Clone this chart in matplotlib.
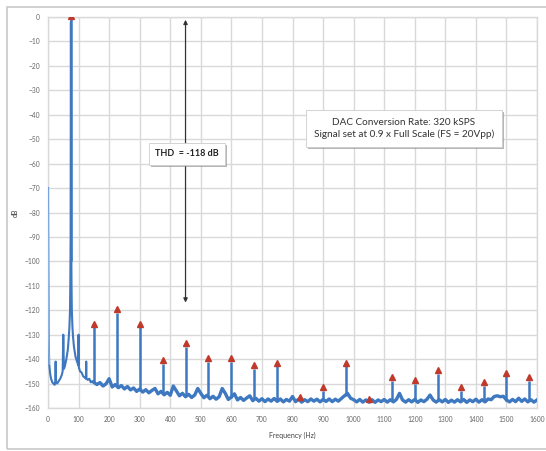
import matplotlib
matplotlib.use("Agg")
import matplotlib.pyplot as plt
import matplotlib.patheffects as pe
from matplotlib.patches import Rectangle

plt.rcParams['font.family'] = ['Lato', 'DejaVu Sans']

# ---- data ----
# low-frequency part of trace (Hz, dB) incl. fundamental skirt and spurs
low_freq = [0, 2, 4, 7, 10, 14, 18, 22, 24, 25, 26, 30, 35, 40, 45, 48, 50, 52, 55, 60, 65, 68, 70, 72, 73, 74,
            75, 76, 77, 78, 80, 82, 85, 90, 95, 99, 100, 101, 105, 110, 115, 120, 124, 125, 126, 130, 135, 140, 145, 150]
low_db = [-70, -130, -142, -146, -148, -149.5, -150, -150.5, -149, -141, -149, -150, -149, -148, -146.5, -145, -130, -144,
          -143, -140, -136, -131, -127, -120, -110, -90,
          -2, -90, -110, -120, -127, -131, -135, -139, -141, -142.5, -130, -143.5, -145, -145.5, -147, -147.5, -148, -141,
          -148, -148.5, -148, -149.5, -149, -149.5]

# noise floor from 150 Hz to 1600 Hz, every 10 Hz
floor_freq = list(range(150, 1601, 10))
floor_db = [
    # 150-240
    -149.5, -150.4, -149.6, -151.0, -150.1, -148.0, -151.4, -150.4, -151.7, -150.8,
    # 250-340
    -152.2, -151.2, -152.6, -151.8, -153.2, -152.2, -153.5, -152.5, -153.8, -152.8,
    # 350-440
    -152.0, -154.2, -153.2, -154.6, -153.6, -154.8, -151.0, -153.0, -155.0, -154.0,
    # 450-540
    -155.4, -154.4, -155.7, -154.7, -152.0, -154.0, -155.8, -154.8, -156.2, -155.2,
    # 550-640
    -156.4, -155.4, -152.0, -154.0, -156.5, -155.5, -154.2, -156.7, -155.7, -156.9,
    # 650-740
    -155.9, -155.0, -157.0, -156.0, -157.2, -156.2, -157.4, -156.3, -157.2, -156.1,
    # 750-840
    -157.3, -156.3, -157.5, -156.5, -157.2, -155.3, -157.4, -156.4, -157.6, -156.6,
    # 850-940
    -157.4, -156.3, -157.2, -156.4, -157.5, -156.5, -157.3, -156.3, -157.4, -156.4,
    # 950-1040
    -157.2, -156.1, -155.0, -154.0, -156.0, -156.6, -157.5, -156.5, -157.6, -156.7,
    # 1050-1140
    -157.5, -156.6, -157.7, -156.7, -157.4, -156.5, -157.6, -156.6, -157.5, -156.5,
    # 1150-1240
    -154.0, -156.7, -157.6, -156.6, -157.5, -156.5, -157.7, -156.7, -157.4, -156.4,
    # 1250-1340
    -154.7, -156.7, -157.6, -156.6, -157.5, -156.5, -157.7, -156.8, -157.6, -156.6,
    # 1350-1440
    -157.5, -156.5, -157.7, -156.7, -157.4, -156.4, -157.6, -156.6, -157.5, -156.3,
    # 1450-1540
    -156.6, -155.3, -155.0, -155.4, -155.2, -156.7, -157.5, -156.5, -157.4, -156.0,
    # 1550-1600
    -157.3, -156.3, -157.5, -156.6, -157.6, -156.7,
]

# harmonics (Hz, peak dB, floor dB at the harmonic)
harm_freq = [75, 150, 225, 300, 375, 450, 525, 600, 675, 750, 825, 900, 975, 1050,
             1125, 1200, 1275, 1350, 1425, 1500, 1575]
harm_db = [-1, -127, -121, -127, -142, -135, -141, -141, -144, -143, -157, -153, -143, -158,
           -149, -150, -146, -153, -151, -147, -149]
harm_base = [-100, -149.5, -151.5, -153, -154, -155, -155.5, -156, -156.5, -157, -157, -157, -155, -157,
             -157, -157, -157, -157, -157, -157, -157]

x_ticks = list(range(0, 1601, 100))
y_ticks = list(range(-160, 1, 10))

thd_text = "THD  = -118 dB"
thd_value = -118
info_text = "DAC Conversion Rate: 320 kSPS\nSignal set at 0.9 x Full Scale (FS = 20Vpp)"

# ---- figure ----
W, H = 546, 451
fig = plt.figure(figsize=(W / 100, H / 100), dpi=100)
fig.patch.set_facecolor('white')

# outer frame
fig.add_artist(Rectangle((7 / W, 2 / H), (W + 5 - 7) / W, (449 - 7) / H, transform=fig.transFigure,
                         fill=False, edgecolor='#c8c8c8', linewidth=1.2))

ax = fig.add_axes([48 / W, (H - 408) / H, (537 - 48) / W, (408 - 17) / H])
ax.set_xlim(0, 1600)
ax.set_ylim(-160, 0)
ax.set_xticks(x_ticks)
ax.set_yticks(y_ticks)
ax.tick_params(axis='both', length=0, labelsize=4.8, labelcolor='#666666', pad=6)
ax.grid(True, color='#d9d9d9', linewidth=1.0)
ax.set_axisbelow(True)
for s in ax.spines.values():
    s.set_color('#d9d9d9')
    s.set_linewidth(1.0)

blue = '#3d78c0'
red = '#c0392b'

# harmonic stems
ax.vlines(harm_freq, harm_base, harm_db, color=blue, linewidth=1.8, zorder=3)

# trace
ax.plot(low_freq, low_db, color=blue, linewidth=1.5, zorder=3)
ax.plot(floor_freq, floor_db, color=blue, linewidth=2.4, zorder=3)
ax.plot(low_freq[:3], low_db[:3], color='#8fb4e3', linewidth=1.0, zorder=3)

# markers
ax.plot(harm_freq, [d + 1.5 for d in harm_db], linestyle='none', marker='^', markersize=4.5,
        color=red, zorder=4)

ax.set_xlabel('Frequency (Hz)', fontsize=5, color='#404040', labelpad=6)
ax.set_ylabel('dB', fontsize=5, color='#404040', labelpad=4)

# THD arrow
ax.annotate('', xy=(450, 0), xytext=(450, thd_value),
            arrowprops=dict(arrowstyle='<|-|>', color='#333333', lw=0.9, mutation_scale=6), zorder=5)
shadow = [pe.withSimplePatchShadow(offset=(1.5, -1.5), shadow_rgbFace='#888888', alpha=0.6)]
t1 = ax.text(455, -56, thd_text, fontsize=6.5, fontweight='bold', color='#222222', ha='center', va='center',
             zorder=6, bbox=dict(boxstyle='square,pad=0.7', facecolor='white', edgecolor='#cccccc', linewidth=0.6))
t1.get_bbox_patch().set_path_effects(shadow)

t2 = ax.text(1165, -45.5, info_text, fontsize=7.2, color='#333333', ha='center', va='center',
             linespacing=1.35, zorder=6,
             bbox=dict(boxstyle='square,pad=0.8', facecolor='white', edgecolor='#cccccc', linewidth=0.6))
t2.get_bbox_patch().set_path_effects(shadow)

fig.savefig('out.png', dpi=100, facecolor='white')
